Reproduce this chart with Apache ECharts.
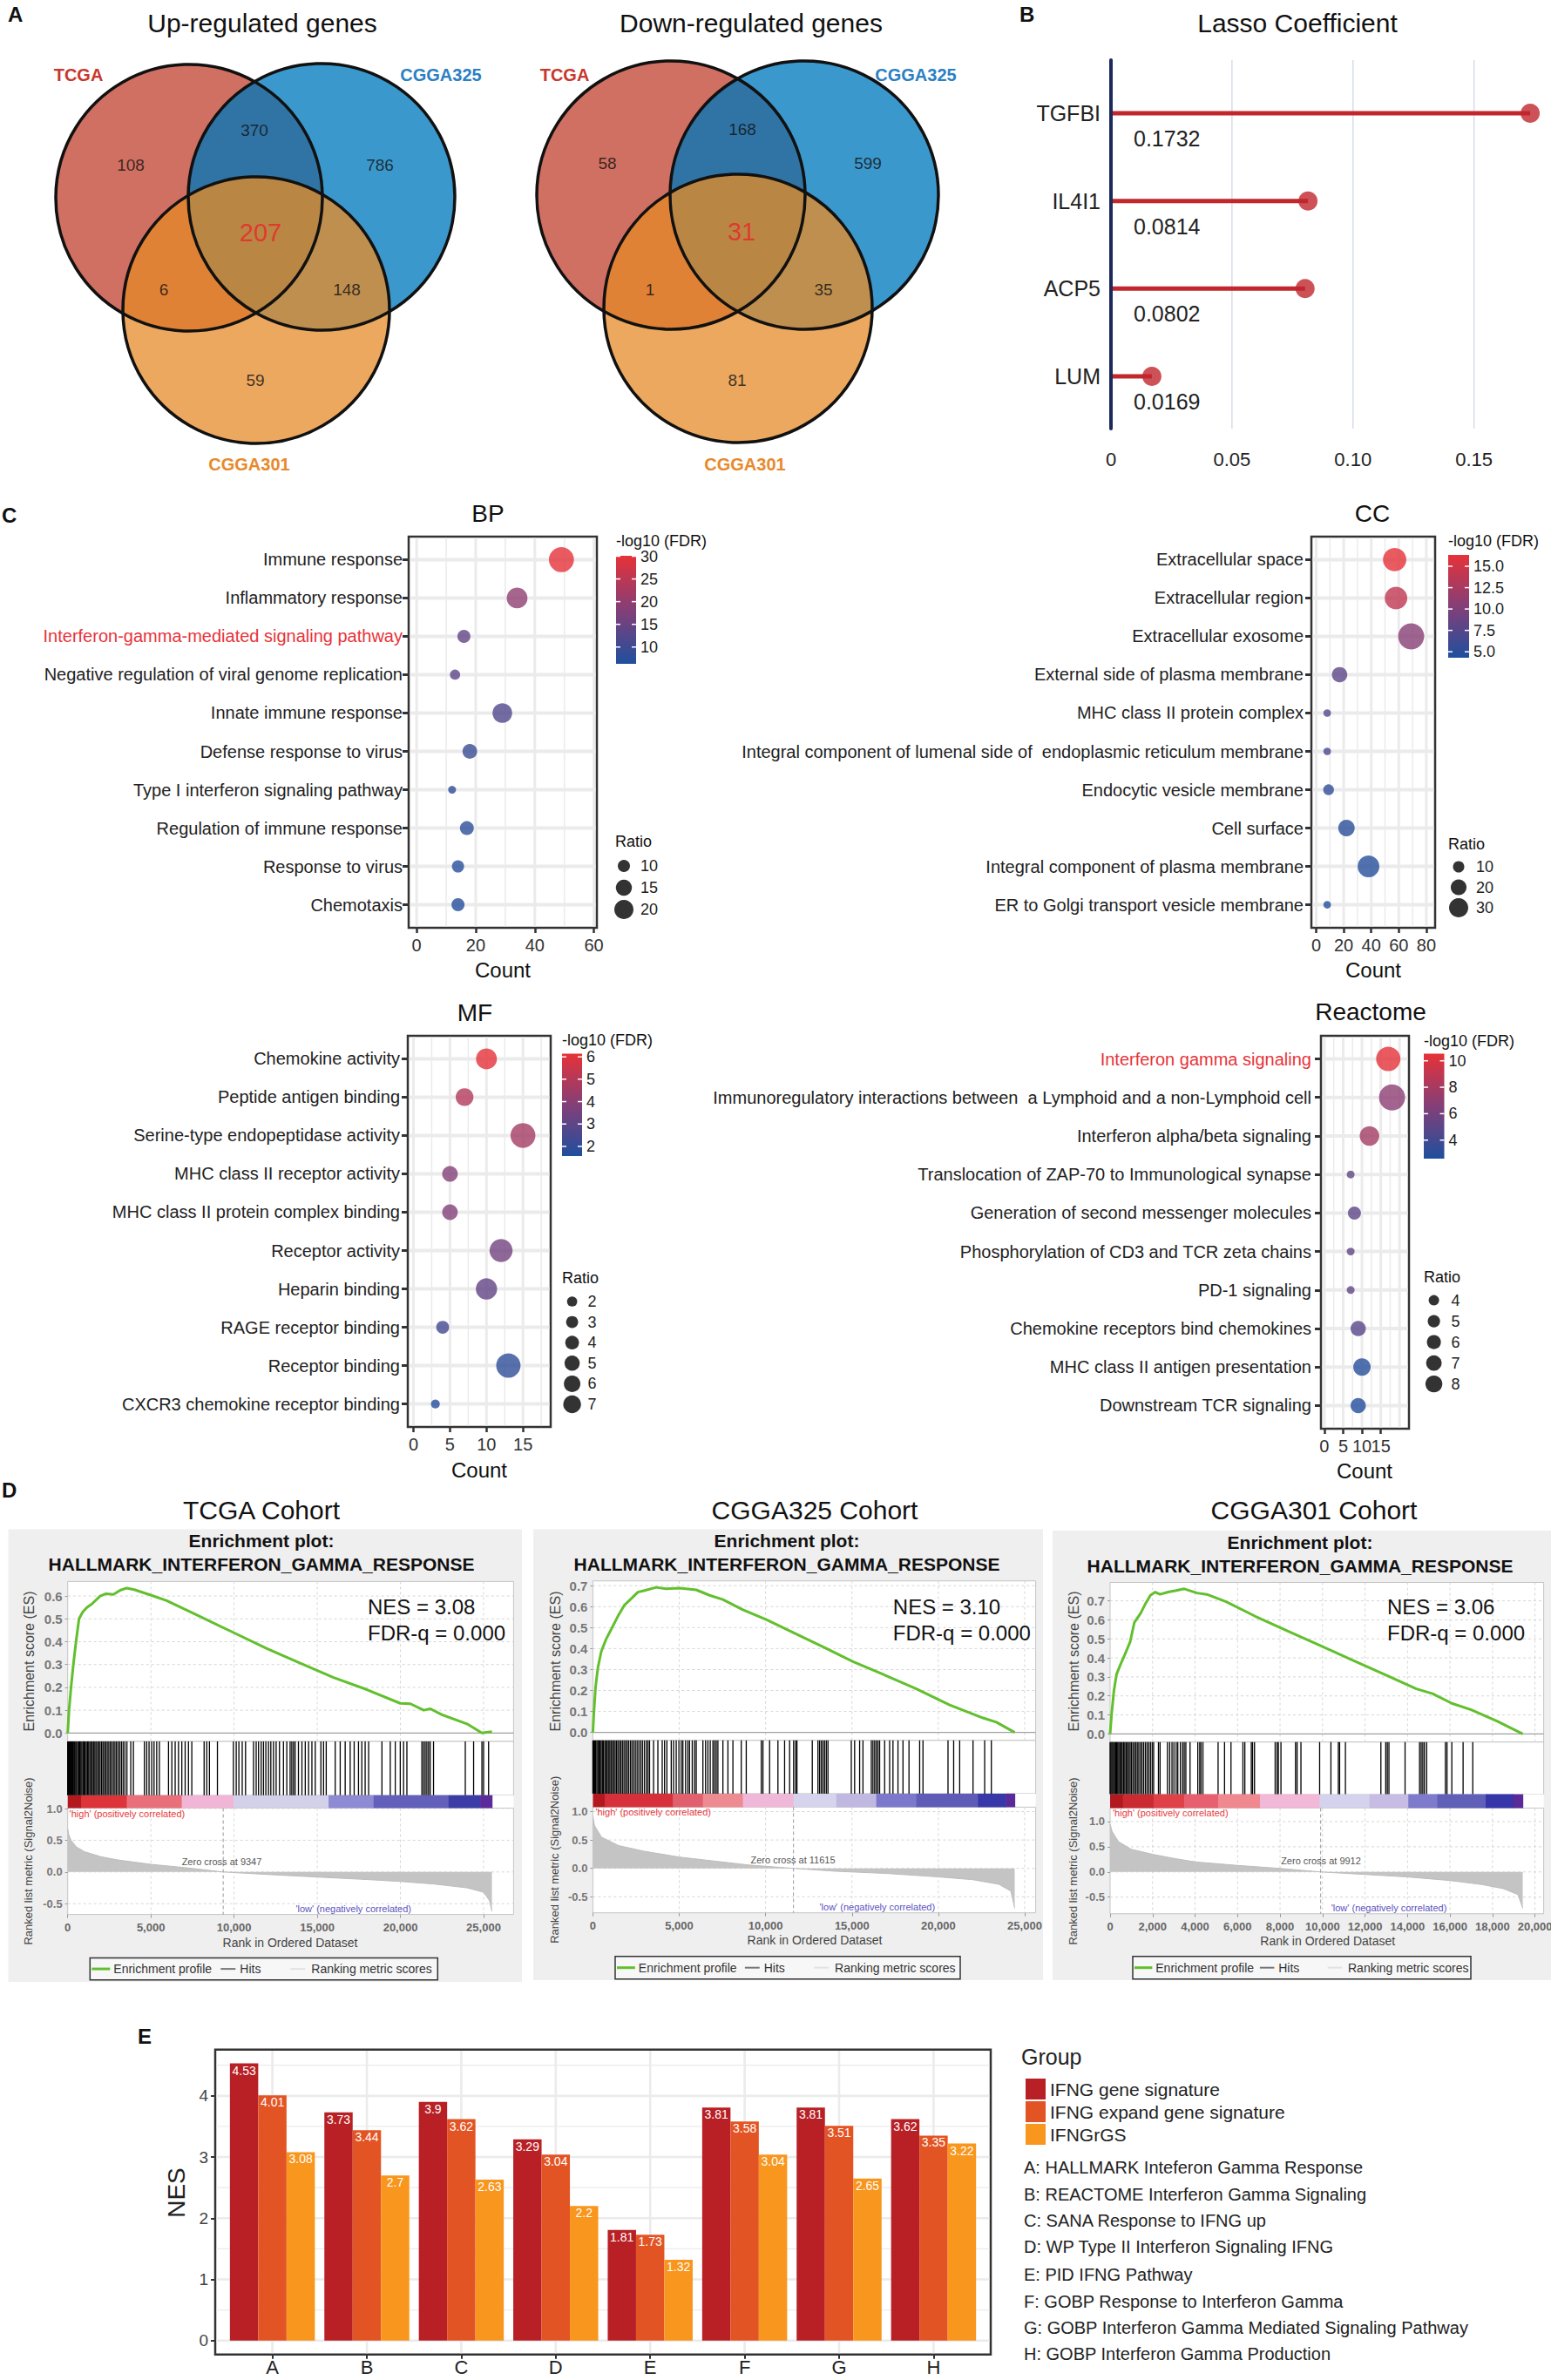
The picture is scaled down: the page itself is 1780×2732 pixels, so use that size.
<!DOCTYPE html>
<html><head><meta charset="utf-8">
<script src="https://cdn.jsdelivr.net/npm/echarts@6/dist/echarts.min.js"></script>
<style>html,body{margin:0;padding:0;background:#fff}#c{width:1780px;height:2732px}</style>
</head><body><div id="c"></div>
<script>
// ================= DATA =================
// Panel A (Venn) : region order = TCGA only, TCGA&CGGA325, CGGA325 only, all three, TCGA&CGGA301, CGGA325&CGGA301, CGGA301 only
const vennSetNames = ['TCGA', 'CGGA325', 'CGGA301'];
const upCounts = [108, 370, 786, 207, 6, 148, 59];
const downCounts = [58, 168, 599, 31, 1, 35, 81];

// Panel B (Lasso)
const lassoGenes = ['TGFBI', 'IL4I1', 'ACP5', 'LUM'];
const lassoCoef = [0.1732, 0.0814, 0.0802, 0.0169];
const lassoTicks = [0, 0.05, 0.10, 0.15];

// Panel C - BP
const bpTerms = ['Immune response', 'Inflammatory response', 'Interferon-gamma-mediated signaling pathway', 'Negative regulation of viral genome replication', 'Innate immune response', 'Defense response to virus', 'Type I interferon signaling pathway', 'Regulation of immune response', 'Response to virus', 'Chemotaxis'];
const bpCount = [49, 34, 16, 13, 29, 18, 12, 17, 14, 14];
const bpLogFDR = [30, 19.5, 14, 13.5, 12, 9.5, 8.2, 7.8, 7.2, 6.8];
const bpRatio = [32, 23, 11, 8, 21, 13, 6, 12, 10, 11];
const bpCountTicks = [0, 20, 40, 60];
const bpFdrTicks = [10, 15, 20, 25, 30];
const bpRatioBreaks = [10, 15, 20];

// Panel C - CC
const ccTerms = ['Extracellular space', 'Extracellular region', 'Extracellular exosome', 'External side of plasma membrane', 'MHC class II protein complex', 'Integral component of lumenal side of  endoplasmic reticulum membrane', 'Endocytic vesicle membrane', 'Cell surface', 'Integral component of plasma membrane', 'ER to Golgi transport vesicle membrane'];
const ccCount = [57, 58, 69, 17, 8, 8, 9, 22, 38, 8];
const ccLogFDR = [16.2, 14, 10.5, 8, 7.5, 6.8, 5.3, 4.9, 4.7, 4.6];
const ccRatio = [45, 42, 56, 19, 4, 4, 9, 22, 39, 4];
const ccCountTicks = [0, 20, 40, 60, 80];
const ccFdrTicks = [5, 7.5, 10, 12.5, 15];
const ccRatioBreaks = [10, 20, 30];

// Panel C - MF
const mfTerms = ['Chemokine activity', 'Peptide antigen binding', 'Serine-type endopeptidase activity', 'MHC class II receptor activity', 'MHC class II protein complex binding', 'Receptor activity', 'Heparin binding', 'RAGE receptor binding', 'Receptor binding', 'CXCR3 chemokine receptor binding'];
const mfCount = [10, 7, 15, 5, 5, 12, 10, 4, 13, 3];
const mfLogFDR = [6.1, 4.9, 4.6, 3.8, 3.8, 3.4, 3.1, 2.4, 1.9, 1.7];
const mfRatio = [9.9, 7, 14.2, 5.3, 5.3, 12.1, 10.3, 3.5, 13.6, 1.4];
const mfCountTicks = [0, 5, 10, 15];
const mfFdrTicks = [2, 3, 4, 5, 6];
const mfRatioBreaks = [2, 3, 4, 5, 6, 7];

// Panel C - Reactome
const reTerms = ['Interferon gamma signaling', 'Immunoregulatory interactions between  a Lymphoid and a non-Lymphoid cell', 'Interferon alpha/beta signaling', 'Translocation of ZAP-70 to Immunological synapse', 'Generation of second messenger molecules', 'Phosphorylation of CD3 and TCR zeta chains', 'PD-1 signaling', 'Chemokine receptors bind chemokines', 'MHC class II antigen presentation', 'Downstream TCR signaling'];
const reCount = [17, 18, 12, 7, 8, 7, 7, 9, 10, 9];
const reLogFDR = [10.4, 6.9, 7.8, 5.2, 5.0, 5.2, 5.2, 4.8, 2.9, 2.8];
const reRatio = [15, 17, 10.2, 2.9, 5.4, 2.9, 2.9, 6.8, 8.4, 6.8];
const reCountTicks = [0, 5, 10, 15, 20];
const reFdrTicks = [4, 6, 8, 10];
const reRatioBreaks = [4, 5, 6, 7, 8];

// Panel D - GSEA  [rank, ES], hits (ranks), [rank, metric]
const tcgaES = [[0,0],[80,0.1],[200,0.2],[340,0.3],[500,0.4],[680,0.5],[900,0.53],[1150,0.55],[1450,0.565],[1950,0.6],[2300,0.61],[2750,0.607],[3150,0.625],[3550,0.635],[4000,0.628],[4950,0.605],[5950,0.58],[7960,0.51],[9965,0.44],[11970,0.37],[13975,0.306],[15980,0.243],[17985,0.19],[19990,0.13],[20600,0.128],[21400,0.1],[21800,0.106],[22500,0.08],[24000,0.04],[24900,0.0],[25500,0.006]];
const tcgaHits = [0,40,95,150,190,260,310,370,420,480,530,600,660,720,790,850,920,990,1050,1120,1190,1260,1330,1410,1480,1550,1630,1700,1790,1870,1950,2040,2120,2210,2290,2380,2470,2560,2650,2750,2840,2930,3030,3130,3230,3330,3440,3560,3790,3950,4610,4750,4890,5050,5190,5350,5510,6060,6260,6460,6660,6860,7060,7260,7460,8200,8360,8520,9000,9960,10130,10290,10490,10690,11170,11330,11470,11630,11770,11910,12070,12210,12370,12530,12730,12970,13170,13370,13470,13570,13670,13870,14080,14280,14480,14680,14880,15220,15380,15540,16080,16380,16680,16980,17220,17480,17680,17880,18090,18890,19390,19690,19990,20190,20390,21290,21390,21490,21590,21690,21790,21990,23900,24400,24900,25000,25300];
const tcgaMetric = [[0,0.68],[50,0.6],[200,0.5],[500,0.4],[1000,0.32],[2000,0.24],[3000,0.19],[5000,0.12],[7000,0.07],[9347,0],[12000,-0.04],[15000,-0.08],[18000,-0.12],[20000,-0.15],[22000,-0.19],[24000,-0.25],[25000,-0.32],[25350,-0.45],[25500,-0.62]];
const tcgaBarEdges = [0,800,3549,6857,9965,15680,18386,22897,24800,25504];
const tcgaBarColors = ['#b3181f','#dc3439','#e9707a','#f1b6d6','#d3d0ea','#8e8ad3','#6260bb','#3c3ca6','#5b2b9b'];

const c325ES = [[0,0],[58,0.092],[154,0.215],[290,0.308],[483,0.385],[772,0.446],[1062,0.492],[1448,0.554],[1834,0.608],[2220,0.638],[2606,0.669],[2992,0.677],[3668,0.692],[4247,0.685],[5019,0.688],[5985,0.68],[6757,0.654],[7529,0.634],[8687,0.585],[10039,0.538],[11583,0.477],[13320,0.408],[15058,0.338],[16795,0.277],[18726,0.208],[20656,0.131],[22587,0.069],[23359,0.049],[24421,0]];
const c325Hits = [0,50,110,160,230,290,350,420,480,550,610,690,760,830,900,980,1050,1130,1210,1290,1370,1450,1540,1620,1710,1800,1890,1980,2070,2170,2260,2360,2460,2560,2660,2770,2870,2980,3090,3190,3282,3514,3764,4015,4151,4286,4537,4672,4826,4981,5116,5212,5367,5502,5598,5753,5888,5985,6371,6525,6660,6795,6950,7046,7143,7239,7529,7819,8108,8591,8880,9749,9846,10232,10714,11100,11390,11622,11738,11815,12703,13031,13127,13224,13320,13417,13514,13610,14961,15154,15444,15637,16120,16216,16313,16409,16506,16602,16892,17181,17374,17664,17954,18301,18919,19112,20560,20888,21236,22008,22683,23069];
const c325Metric = [[0,0.92],[100,0.75],[500,0.55],[1500,0.4],[3000,0.3],[5000,0.2],[7000,0.13],[9000,0.06],[11615,0],[14000,-0.05],[17000,-0.09],[20000,-0.15],[22000,-0.2],[23500,-0.28],[24200,-0.4],[24421,-0.7]];
const c325BarEdges = [0,700,4633,6371,8687,11622,14093,16409,18726,22297,23900,24421];
const c325BarColors = ['#b3181f','#d8303a','#e0606e','#ee8a92','#f0b8d8','#d6d4ec','#c0b8e0','#7c78cc','#5f5cb8','#3838a8','#5a2a9a'];

const c301ES = [[0,0],[76,0.11],[182,0.229],[304,0.314],[486,0.364],[683,0.415],[941,0.483],[1138,0.585],[1442,0.636],[1669,0.686],[1897,0.729],[2124,0.746],[2352,0.734],[2732,0.746],[3111,0.754],[3490,0.763],[4097,0.741],[4553,0.734],[5463,0.695],[6829,0.619],[8346,0.542],[9864,0.466],[11381,0.39],[12899,0.314],[14416,0.237],[15175,0.212],[16086,0.161],[16996,0.127],[18210,0.068],[19424,0]];
const c301Hits = [0,35,80,120,170,210,260,310,360,410,460,520,570,630,690,750,810,870,940,1000,1070,1140,1210,1280,1350,1430,1500,1580,1660,1740,1820,1900,1980,2050,2276,2352,2701,2807,2914,3005,3111,3187,3308,3414,3490,3566,3763,4128,4219,4279,4370,5084,5387,5691,6252,6343,6647,6707,6798,7770,7861,7921,8043,8726,8802,8984,9864,10395,10744,10805,11078,12747,12975,13051,13126,13885,14568,14644,14720,14796,14902,15782,15858,16086,16617,17072];
const c301Metric = [[0,0.95],[100,0.8],[400,0.6],[1000,0.45],[2000,0.35],[3000,0.27],[4000,0.2],[6000,0.13],[8000,0.07],[9912,0],[12000,-0.05],[14000,-0.1],[16000,-0.17],[17500,-0.25],[18500,-0.33],[19200,-0.45],[19424,-0.72]];
const c301BarEdges = [0,600,2049,3490,5084,7056,9864,12216,14037,15403,17679,18969,19424];
const c301BarColors = ['#b3181f','#cc2a32','#e04048','#e86070','#f08890','#f2b8d8','#d4d2ec','#c6bce4','#7e7acc','#6060b8','#3636a8','#5a2a9a'];

// Panel E
const eCats = ['A', 'B', 'C', 'D', 'E', 'F', 'G', 'H'];
const eGroups = ['IFNG gene signature', 'IFNG expand gene signature', 'IFNGrGS'];
const eIFNG = [4.53, 3.73, 3.9, 3.29, 1.81, 3.81, 3.81, 3.62];
const eIFNGexpand = [4.01, 3.44, 3.62, 3.04, 1.73, 3.58, 3.51, 3.35];
const eIFNGrGS = [3.08, 2.7, 2.63, 2.2, 1.32, 3.04, 2.65, 3.22];
const eTicks = [0, 1, 2, 3, 4];
const eDesc = ['A: HALLMARK Inteferon Gamma Response', 'B: REACTOME Interferon Gamma Signaling', 'C: SANA Response to IFNG up', 'D: WP Type II Interferon Signaling IFNG', 'E: PID IFNG Pathway', 'F: GOBP Response to Interferon Gamma', 'G: GOBP Interferon Gamma Mediated Signaling Pathway', 'H: GOBP Interferon Gamma Production'];

// ================= HELPERS =================
const FONT = 'Liberation Sans, Arial, Helvetica, sans-serif';
const FDR_COLORS = ['#1f4f9e', '#843f78', '#e63238'];
const option = {animation:false, backgroundColor:'#ffffff', textStyle:{fontFamily:FONT},
  grid:[], xAxis:[], yAxis:[], series:[], visualMap:[], legend:[], graphic:{elements:[]}};
const G = option.graphic.elements;
function txt(x, y, s, o) {
  o = o || {};
  G.push({type:'text', x:x, y:y, rotation:o.rot || 0, z:o.z || 100, silent:true,
    style:{text:s, fontSize:o.size || 16, fontFamily:o.fam || FONT, fontWeight:o.w || 'normal', fill:o.color || '#111',
      textAlign:o.align || 'left', align:o.align || 'left', textVerticalAlign:'middle', verticalAlign:'middle'}});
}
function rect(x, y, w, h, o) {
  G.push({type:'rect', z:o.z == null ? -10 : o.z, silent:true, shape:{x:x, y:y, width:w, height:h},
    style:{fill:o.fill || 'none', stroke:o.stroke || null, lineWidth:o.lw || 1}});
}
function gline(x1, y1, x2, y2, o) {
  G.push({type:'line', z:o.z || 100, silent:true, shape:{x1:x1, y1:y1, x2:x2, y2:y2}, style:{stroke:o.color, lineWidth:o.lw || 1}});
}
function addGrid(g, xa, ya) {
  g.outerBoundsMode = 'none'; g.containLabel = false;
  option.grid.push(g);
  const gi = option.grid.length - 1;
  xa.gridIndex = gi; ya.gridIndex = gi;
  xa.axisLine = Object.assign({onZero:false}, xa.axisLine || {});
  ya.axisLine = Object.assign({onZero:false}, ya.axisLine || {});
  option.xAxis.push(xa); option.yAxis.push(ya);
  return [option.xAxis.length - 1, option.yAxis.length - 1];
}
function hid(min, max, extra) { return Object.assign({type:'value', show:false, min:min, max:max}, extra || {}); }
function gridLines(ax, vals, dir, ref, style, z, inset) {
  inset = inset || 0;
  option.series.push({type:'custom', xAxisIndex:ax[0], yAxisIndex:ax[1], silent:true, z:z == null ? 1 : z,
    data: vals.map(v => dir === 'v' ? [v, ref] : [ref, v]),
    renderItem: (p, api) => {
      const cs = p.coordSys;
      const pt = api.coord([api.value(0), api.value(1)]);
      const sh = dir === 'v' ? {x1:pt[0], y1:cs.y + inset, x2:pt[0], y2:cs.y + cs.height - inset}
                             : {x1:cs.x + inset, y1:pt[1], x2:cs.x + cs.width - inset, y2:pt[1]};
      return {type:'line', shape:sh, style:Object.assign({fill:null}, style)};
    }});
}

// ================= PANEL LETTERS =================
txt(9, 16, 'A', {size:24, w:'bold'});
txt(1170, 16, 'B', {size:24, w:'bold'});
txt(2, 591, 'C', {size:24, w:'bold'});
txt(2, 1710, 'D', {size:24, w:'bold'});
txt(158, 2337, 'E', {size:24, w:'bold'});

// ================= PANEL A : VENN =================
const vennFill = ['#d07062', '#3b98cd', '#eca85f', '#3074a5', '#e08236', '#bf8f50', '#ba8644'];
const vennAx = addGrid({left:0, top:0, width:1150, height:560}, hid(0, 1150), hid(0, 560, {inverse:true}));
function circlePts(c, n) { const a = []; for (let i = 0; i < n; i++) { const t = 2 * Math.PI * i / n; a.push([c[0] + c[2] * Math.cos(t), c[1] + c[2] * Math.sin(t)]); } return a; }
function insideC(p, c) { const dx = p[0] - c[0], dy = p[1] - c[1]; return dx * dx + dy * dy <= c[2] * c[2] + 0.01; }
function interPoly(cs) {
  const pts = [];
  cs.forEach((c, i) => circlePts(c, 720).forEach(p => { if (cs.every((o, j) => j === i || insideC(p, o))) pts.push(p); }));
  const mx = pts.reduce((s, p) => s + p[0], 0) / pts.length, my = pts.reduce((s, p) => s + p[1], 0) / pts.length;
  pts.sort((a, b) => Math.atan2(a[1] - my, a[0] - mx) - Math.atan2(b[1] - my, b[0] - mx));
  return pts;
}
function venn(circles, labelPos, counts, setPos, title, titlePos) {
  const [A, B, C] = circles;
  const shapes = [{c:A, fill:vennFill[0]}, {c:B, fill:vennFill[1]}, {c:C, fill:vennFill[2]},
    {poly:interPoly([A, B]), fill:vennFill[3]}, {poly:interPoly([A, C]), fill:vennFill[4]},
    {poly:interPoly([B, C]), fill:vennFill[5]}, {poly:interPoly([A, B, C]), fill:vennFill[6]},
    {c:A, stroke:true}, {c:B, stroke:true}, {c:C, stroke:true}];
  option.series.push({type:'custom', xAxisIndex:vennAx[0], yAxisIndex:vennAx[1], silent:true, z:2,
    data: shapes.map(s => s.c ? [s.c[0], s.c[1]] : [0, 0]),
    renderItem: (p, api) => {
      const s = shapes[p.dataIndex];
      if (s.poly) return {type:'polygon', shape:{points:s.poly.map(q => api.coord(q))}, style:{fill:s.fill}};
      const ctr = api.coord([s.c[0], s.c[1]]);
      const r = api.size([s.c[2], 0])[0];
      return {type:'circle', shape:{cx:ctr[0], cy:ctr[1], r:r},
        style: s.stroke ? {fill:null, stroke:'#111', lineWidth:3.5} : {fill:s.fill}};
    }});
  option.series.push({type:'scatter', xAxisIndex:vennAx[0], yAxisIndex:vennAx[1], silent:true, z:5, symbolSize:1,
    itemStyle:{color:'rgba(0,0,0,0)'},
    data: counts.map((n, i) => ({value:labelPos[i], label:{show:true, position:'inside', formatter:String(n),
      fontSize: i === 3 ? 29 : 19, color: i === 3 ? '#e8262a' : '#111', fontFamily:FONT}}))});
  const setColors = ['#c8372d', '#2b7fc3', '#e8892c'];
  vennSetNames.forEach((nm, i) => txt(setPos[i][0], setPos[i][1], nm, {size:20, w:'bold', color:setColors[i], align:'center'}));
  txt(titlePos[0], titlePos[1], title, {size:30, align:'center'});
}
venn([[217,227,153],[369,226,153],[294,356,153]],
  [[150,189],[292,149],[436,189],[299,267],[188,332],[398,332],[293,436]], upCounts,
  [[90,86],[506,86],[286,533]], 'Up-regulated genes', [301,26]);
venn([[770,224,154],[923,224,154],[847,354,154]],
  [[697,187],[852,148],[996,187],[851,266],[746,332],[945,332],[846,436]], downCounts,
  [[648,86],[1051,86],[855,533]], 'Down-regulated genes', [862,26]);

// ================= PANEL B : LASSO =================
txt(1489, 26, 'Lasso Coefficient', {size:30, align:'center'});
const las = addGrid({left:1275, top:69, width:500, height:423},
  {type:'value', min:0, max:0.18, splitLine:{show:false}, axisLine:{show:false}, axisTick:{show:false},
    axisLabel:{customValues:lassoTicks, formatter:v => v === 0 ? '0' : v.toFixed(2), fontSize:22, color:'#222', margin:24}},
  {type:'value', inverse:true, min:0.394, max:4.596, splitLine:{show:false},
    axisLine:{show:true, lineStyle:{color:'#1b2a5a', width:4}}, axisTick:{show:false},
    axisLabel:{customValues:[1,2,3,4], formatter:v => lassoGenes[Math.round(v) - 1], fontSize:25, color:'#222', margin:12}});
gridLines(las, lassoTicks.slice(1), 'v', 1, {stroke:'#d6dce8', lineWidth:1.5});
option.series.push({type:'custom', xAxisIndex:las[0], yAxisIndex:las[1], silent:true, z:3,
  data: lassoCoef.map((v, i) => [v, i + 1]),
  renderItem: (p, api) => {
    const v = api.value(0), r = api.value(1);
    const a = api.coord([0, r]), b = api.coord([v, r]);
    return {type:'group', children:[
      {type:'line', shape:{x1:a[0] + 2, y1:a[1], x2:b[0], y2:b[1]}, style:{stroke:'#c1272d', lineWidth:5}},
      {type:'text', x:a[0] + 26, y:a[1] + 29, style:{text:String(lassoCoef[p.dataIndex]), fontSize:25, fontFamily:FONT, fill:'#222',
        textAlign:'left', align:'left', textVerticalAlign:'middle', verticalAlign:'middle'}}]};
  }});
option.series.push({type:'scatter', xAxisIndex:las[0], yAxisIndex:las[1], silent:true, z:4, symbolSize:22,
  itemStyle:{color:'#c1272d'}, data: lassoCoef.map((v, i) => [v, i + 1])});

// ================= PANEL C : DOT PLOTS =================
function dotPlot(c) {
  const n = c.terms.length;
  const rows = c.terms.map((t, i) => i + 1);
  const b = c.box;
  const ax = addGrid({left:b[0], top:b[1], width:b[2], height:b[3], show:true, borderColor:'#333', borderWidth:2.5, backgroundColor:'#fff'},
    {type:'value', min:c.xr[0], max:c.xr[1], splitLine:{show:false}, axisLine:{show:false},
      axisTick:{show:true, customValues:c.xt, length:6, lineStyle:{color:'#333', width:2.5}},
      axisLabel:{customValues:c.xt, fontSize:20, color:'#333', margin:10}},
    {type:'value', inverse:true, min:0.4, max:n + 0.6, splitLine:{show:false}, axisLine:{show:false},
      axisTick:{show:true, customValues:rows, length:7, lineStyle:{color:'#333', width:3}},
      axisLabel:{customValues:rows, fontSize:20, color:'#222', margin:c.lm,
        formatter:v => { const k = Math.round(v) - 1; return k === c.hl ? '{hl|' + c.terms[k] + '}' : c.terms[k]; },
        rich:{hl:{color:'#e8333a', fontSize:20, fontFamily:FONT}}}});
  gridLines(ax, c.minor, 'v', 1, {stroke:'#ebebeb', lineWidth:1.5}, 1, 1.5);
  gridLines(ax, c.xt, 'v', 1, {stroke:'#ebebeb', lineWidth:3}, 1, 1.5);
  gridLines(ax, rows, 'h', c.xt[0], {stroke:'#ebebeb', lineWidth:4}, 1, 1.5);
  const sIdx = option.series.length;
  option.series.push({type:'scatter', xAxisIndex:ax[0], yAxisIndex:ax[1], silent:true, z:4,
    data: c.count.map((v, i) => [v, i + 1, c.fdr[i], c.ratio[i]]),
    symbolSize: d => Math.sqrt(Math.max(c.sA + c.sB * d[3], 9))});
  option.visualMap.push({type:'continuous', show:false, seriesIndex:sIdx, dimension:2, min:c.cbr[0], max:c.cbr[1], inRange:{color:FDR_COLORS}});
  // colour bar
  const cb = c.cb;
  const cax = addGrid({left:cb[0], top:cb[1], width:cb[2], height:cb[3]}, hid(-1, 1),
    {type:'value', min:c.cbr[0], max:c.cbr[1], position:'right', splitLine:{show:false}, axisLine:{show:false}, axisTick:{show:false},
      axisLabel:{customValues:c.cbt, formatter:c.fmt, fontSize:18, color:'#222', margin:5}});
  option.series.push({type:'custom', xAxisIndex:cax[0], yAxisIndex:cax[1], silent:true, z:2,
    data:[[0, c.cbr[0], c.cbr[1]]],
    renderItem: (p, api) => {
      const cs = p.coordSys;
      const y1 = api.coord([0, api.value(1)])[1], y2 = api.coord([0, api.value(2)])[1];
      return {type:'rect', shape:{x:cs.x, y:y2, width:cs.width, height:y1 - y2},
        style:{fill:{type:'linear', x:0, y:1, x2:0, y2:0, global:false,
          colorStops:FDR_COLORS.map((col, i, a) => ({offset:i / (a.length - 1), color:col}))}}};
    }});
  option.series.push({type:'custom', xAxisIndex:cax[0], yAxisIndex:cax[1], silent:true, z:3,
    data: c.cbt.map(v => [0, v]),
    renderItem: (p, api) => {
      const cs = p.coordSys; const y = api.coord([0, api.value(1)])[1];
      return {type:'group', children:[
        {type:'line', shape:{x1:cs.x, y1:y, x2:cs.x + 5, y2:y}, style:{stroke:'#fff', lineWidth:1.5}},
        {type:'line', shape:{x1:cs.x + cs.width - 5, y1:y, x2:cs.x + cs.width, y2:y}, style:{stroke:'#fff', lineWidth:1.5}}]};
    }});
  // size legend
  const L = c.leg;
  const lax = addGrid({left:L.dotX - 10, top:L.y0 - L.sp / 2, width:20, height:L.breaks.length * L.sp}, hid(-1, 1),
    {type:'category', data:L.breaks.map(String), inverse:true, position:'right', axisLine:{show:false}, axisTick:{show:false},
      splitLine:{show:false}, axisLabel:{fontSize:18, color:'#222', margin:L.labX - (L.dotX + 10)}});
  option.series.push({type:'scatter', xAxisIndex:lax[0], yAxisIndex:lax[1], silent:true, z:4,
    itemStyle:{color:'#000'}, data: L.breaks.map(v => [0, String(v)]),
    symbolSize: (d, p) => Math.sqrt(Math.max(c.sA + c.sB * L.breaks[p.dataIndex], 9))});
  txt(c.title[0], c.title[1], c.title[2], {size:28, align:'center'});
  txt(c.countPos[0], c.countPos[1], 'Count', {size:24, align:'center'});
  txt(c.fdrT[0], c.fdrT[1], '-log10 (FDR)', {size:18});
  txt(c.ratT[0], c.ratT[1], 'Ratio', {size:18});
}
const intFmt = v => String(Math.round(v));
dotPlot({terms:bpTerms, count:bpCount, fdr:bpLogFDR, ratio:bpRatio, box:[469,616,216,449], xr:[-2.7,61], xt:bpCountTicks, minor:[10,30,50],
  hl:2, sA:-92, sB:28.8, cb:[707,638,23,124], cbr:[6.3,30.1], cbt:bpFdrTicks, fmt:intFmt,
  leg:{dotX:716, labX:735, y0:994, sp:25, breaks:bpRatioBreaks}, title:[560,589,'BP'], countPos:[577,1113], fdrT:[707,621], ratT:[706,966], lm:7});
dotPlot({terms:ccTerms, count:ccCount, fdr:ccLogFDR, ratio:ccRatio, box:[1505,616,142,449], xr:[-3.5,86.4], xt:ccCountTicks, minor:[10,30,50,70],
  hl:-1, sA:12, sB:15.75, cb:[1662,637,24,118], cbr:[4.3,16.33], cbt:ccFdrTicks, fmt:v => v.toFixed(1),
  leg:{dotX:1674, labX:1694, y0:995, sp:23.5, breaks:ccRatioBreaks}, title:[1575,589,'CC'], countPos:[1576,1113], fdrT:[1662,621], ratT:[1662,969], lm:9});
dotPlot({terms:mfTerms, count:mfCount, fdr:mfLogFDR, ratio:mfRatio, box:[468,1189,164,449], xr:[-0.78,18.8], xt:mfCountTicks, minor:[2.5,7.5,12.5,17.5],
  hl:-1, sA:25, sB:55.8, cb:[645,1209.5,23,117.5], cbr:[1.57,6.14], cbt:mfFdrTicks, fmt:intFmt,
  leg:{dotX:656.6, labX:674.5, y0:1494, sp:23.6, breaks:mfRatioBreaks}, title:[545,1162.5,'MF'], countPos:[550,1687], fdrT:[645,1194], ratT:[645,1467], lm:9});
dotPlot({terms:reTerms, count:reCount, fdr:reLogFDR, ratio:reRatio, box:[1516,1189,101,451], xr:[-0.9,22.5], xt:reCountTicks, minor:[2.5,7.5,12.5,17.5],
  hl:0, sA:-88, sB:58, cb:[1634,1209.5,23.5,120.5], cbr:[2.6,10.54], cbt:reFdrTicks, fmt:intFmt,
  leg:{dotX:1645.6, labX:1665.6, y0:1492.6, sp:24, breaks:reRatioBreaks}, title:[1573,1161,'Reactome'], countPos:[1566,1688], fdrT:[1634,1195], ratT:[1634,1465.5], lm:11});

// ================= PANEL D : GSEA =================
function gsea(c) {
  rect(c.panel[0], c.panel[1], c.panel[2], c.panel[3], {fill:'#efefef', z:-10});
  const W = c.pr - c.pl;
  const dash = {stroke:'#d6d6d6', lineWidth:1, lineDash:[3,3]};
  const xAx = labels => ({type:'value', min:0, max:c.rankMax, splitLine:{show:false}, axisLine:{show:false},
    axisTick: labels ? {show:true, customValues:c.xTicks, length:4, lineStyle:{color:'#999'}} : {show:false},
    axisLabel: labels ? {customValues:c.xTicks, formatter:v => Number(v).toLocaleString('en-US'), fontSize:13, fontWeight:'bold', color:'#666', margin:8} : {show:false}});
  // ES
  const es = addGrid({left:c.pl, top:c.esTop, width:W, height:c.esBot - c.esTop, show:true, borderColor:'#c4c4c4', borderWidth:1, backgroundColor:'#fff'},
    xAx(false),
    {type:'value', min:c.esMin, max:c.esMax, splitLine:{show:false}, axisLine:{show:false},
      axisTick:{show:true, customValues:c.esTicks, length:3, lineStyle:{color:'#999'}},
      axisLabel:{customValues:c.esTicks, formatter:v => v.toFixed(1), fontSize:15, fontWeight:'bold', color:'#777', margin:6}});
  gridLines(es, c.xTicks.slice(1), 'v', 0.1, dash);
  gridLines(es, c.esTicks.slice(1), 'h', 1000, dash);
  gridLines(es, [0], 'h', 1000, {stroke:'#a0a0a0', lineWidth:1.3}, 2);
  option.series.push({type:'line', xAxisIndex:es[0], yAxisIndex:es[1], data:c.es, symbol:'none', silent:true, z:5,
    lineStyle:{color:'#62bf2e', width:3}});
  // hits
  const hits = addGrid({left:c.pl, top:c.esBot, width:W, height:c.hitsBot - c.esBot, show:true, borderColor:'#c4c4c4', borderWidth:1, backgroundColor:'#fff'},
    xAx(false), hid(0, 1));
  gridLines(hits, c.hits, 'v', 0.5, {stroke:'#000', lineWidth:1.3}, 3);
  // colour bar
  const cb = addGrid({left:c.pl, top:c.hitsBot, width:W, height:c.cbBot - c.hitsBot, show:true, borderWidth:0, backgroundColor:'#fff'},
    xAx(false), hid(0, 1));
  option.series.push({type:'custom', xAxisIndex:cb[0], yAxisIndex:cb[1], silent:true, z:2,
    data: c.cbColors.map((col, i) => [c.cbEdges[i], c.cbEdges[i + 1], i]),
    renderItem: (p, api) => {
      const cs = p.coordSys;
      const x1 = api.coord([api.value(0), 0.5])[0], x2 = api.coord([api.value(1), 0.5])[0];
      return {type:'rect', shape:{x:x1, y:cs.y, width:x2 - x1 + 0.6, height:cs.height}, style:{fill:c.cbColors[api.value(2)]}};
    }});
  // ranked metric
  const m = addGrid({left:c.pl, top:c.cbBot, width:W, height:c.mBot - c.cbBot, show:true, borderColor:'#c4c4c4', borderWidth:1, backgroundColor:'#fff'},
    xAx(true),
    {type:'value', min:c.mMin, max:c.mMax, splitLine:{show:false}, axisLine:{show:false},
      axisTick:{show:true, customValues:c.mTicks, length:3, lineStyle:{color:'#999'}},
      axisLabel:{customValues:c.mTicks, formatter:v => v.toFixed(1), fontSize:13, fontWeight:'bold', color:'#777', margin:6}});
  gridLines(m, c.xTicks.slice(1), 'v', 0, dash);
  gridLines(m, c.mTicks, 'h', 1000, dash);
  option.series.push({type:'line', xAxisIndex:m[0], yAxisIndex:m[1], data:c.metric, symbol:'none', silent:true, z:3,
    lineStyle:{color:'#bdbdbd', width:1}, areaStyle:{color:'#c4c4c4', opacity:1}});
  gridLines(m, [c.zero], 'v', 0, {stroke:'#999', lineWidth:1, lineDash:[4,3]}, 4);
  // texts
  txt(c.titleX, 1733, c.title, {size:30, align:'center'});
  txt(c.enrich[0], c.enrich[1], 'Enrichment plot:', {size:21, w:'bold', align:'center'});
  txt(c.enrich[0], c.enrich[2], 'HALLMARK_INTERFERON_GAMMA_RESPONSE', {size:21, w:'bold', align:'center'});
  txt(c.nesX, 1844, 'NES = ' + c.nes, {size:24});
  txt(c.nesX, 1874, 'FDR-q = ' + c.fdr, {size:24});
  txt(c.zeroTxt[0], c.zeroTxt[1], 'Zero cross at ' + c.zero, {size:11, color:'#555', align:'center'});
  txt(c.highTxt[0], c.highTxt[1], "'high' (positively correlated)", {size:11, color:'#e8383d'});
  txt(c.lowTxt[0], c.lowTxt[1], "'low' (negatively correlated)", {size:11, color:'#5a52c0', align:'center'});
  txt(c.esTitle[0], c.esTitle[1], 'Enrichment score (ES)', {size:16, color:'#444', align:'center', rot:Math.PI / 2});
  txt(c.mTitle[0], c.mTitle[1], 'Ranked list metric (Signal2Noise)', {size:13, color:'#444', align:'center', rot:Math.PI / 2});
  txt(c.xTitle[0], c.xTitle[1], 'Rank in Ordered Dataset', {size:14, color:'#444', align:'center'});
  const lb = c.legBox, k = lb[2] / 399, cy = lb[1] + lb[3] / 2;
  rect(lb[0], lb[1], lb[2], lb[3], {fill:'#f7f7f7', stroke:'#333', lw:1.5, z:50});
  gline(lb[0] + 2 * k, cy, lb[0] + 23 * k, cy, {color:'#62bf2e', lw:3, z:60});
  txt(lb[0] + 27 * k, cy, 'Enrichment profile', {size:14, color:'#333', z:60});
  gline(lb[0] + 150 * k, cy, lb[0] + 167 * k, cy, {color:'#777', lw:2, z:60});
  txt(lb[0] + 172 * k, cy, 'Hits', {size:14, color:'#333', z:60});
  gline(lb[0] + 230 * k, cy, lb[0] + 247 * k, cy, {color:'#e2e2e2', lw:2, z:60});
  txt(lb[0] + 254 * k, cy, 'Ranking metric scores', {size:14, color:'#333', z:60});
}
gsea({panel:[9.6,1755.5,589.4,519.5], pl:77.7, pr:589.4, esTop:1815.4, esBot:1999, hitsBot:2060.7, cbBot:2075.5, mBot:2197.6,
  rankMax:26802, esMin:-0.037, esMax:0.6637, mMin:-0.670, mMax:1.007,
  esTicks:[0,0.1,0.2,0.3,0.4,0.5,0.6], mTicks:[-0.5,0,0.5,1], xTicks:[0,5000,10000,15000,20000,25000],
  es:tcgaES, hits:tcgaHits, metric:tcgaMetric, cbEdges:tcgaBarEdges, cbColors:tcgaBarColors, zero:9347, nes:'3.08', fdr:'0.000',
  title:'TCGA Cohort', titleX:300, enrich:[300,1768.4,1795.5], nesX:422, zeroTxt:[254.5,2136.5], highTxt:[79.6,2081.8], lowTxt:[405.7,2191],
  legBox:[103.3,2247.5,399,25.2], esTitle:[33.7,1907], mTitle:[32.5,2136.5], xTitle:[333,2229.8]});
gsea({panel:[612,1755.5,585,517.5], pl:680.4, pr:1188.6, esTop:1814.7, esBot:1997.8, hitsBot:2058.9, cbBot:2074.4, mBot:2195.7,
  rankMax:25636, esMin:-0.038, esMax:0.7228, mMin:-0.782, mMax:1.078,
  esTicks:[0,0.1,0.2,0.3,0.4,0.5,0.6,0.7], mTicks:[-0.5,0,0.5,1], xTicks:[0,5000,10000,15000,20000,25000],
  es:c325ES, hits:c325Hits, metric:c325Metric, cbEdges:c325BarEdges, cbColors:c325BarColors, zero:11615, nes:'3.10', fdr:'0.000',
  title:'CGGA325 Cohort', titleX:935, enrich:[903,1768.4,1795.5], nesX:1024.8, zeroTxt:[910,2134.7], highTxt:[683.4,2080], lowTxt:[1006.8,2189],
  legBox:[706,2245.7,396,26], esTitle:[637.5,1907], mTitle:[636,2134.7], xTitle:[935,2227]});
gsea({panel:[1208,1757,572,516], pl:1274, pr:1771.6, esTop:1816.5, esBot:1999.7, hitsBot:2059.6, cbBot:2075.5, mBot:2196.8,
  rankMax:20410, esMin:-0.0426, esMax:0.7966, mMin:-0.830, mMax:1.268,
  esTicks:[0,0.1,0.2,0.3,0.4,0.5,0.6,0.7], mTicks:[-0.5,0,0.5,1], xTicks:[0,2000,4000,6000,8000,10000,12000,14000,16000,18000,20000],
  es:c301ES, hits:c301Hits, metric:c301Metric, cbEdges:c301BarEdges, cbColors:c301BarColors, zero:9912, nes:'3.06', fdr:'0.000',
  title:'CGGA301 Cohort', titleX:1508, enrich:[1492,1770,1797], nesX:1592, zeroTxt:[1516,2135.8], highTxt:[1277,2081], lowTxt:[1594,2189.5],
  legBox:[1300,2245.7,388,26], esTitle:[1232.6,1907], mTitle:[1231.4,2136.5], xTitle:[1523.7,2228]});

// ================= PANEL E : BARS =================
const eColors = ['#b82025', '#e35424', '#f8961e'];
const eOuter = addGrid({left:247, top:2352.7, width:890, height:350, show:true, borderColor:'#333', borderWidth:2.5, backgroundColor:'#fff'},
  hid(0, 1),
  {type:'value', min:-0.2265, max:4.7565, splitLine:{show:false}, axisLine:{show:false},
    axisTick:{show:true, customValues:eTicks, length:5, lineStyle:{color:'#333', width:2}},
    axisLabel:{customValues:eTicks, fontSize:19, color:'#444', margin:8}});
gridLines(eOuter, [0.5,1.5,2.5,3.5,4.5], 'h', 0.5, {stroke:'#ebebeb', lineWidth:1.3}, 1, 1.5);
gridLines(eOuter, eTicks, 'h', 0.5, {stroke:'#ebebeb', lineWidth:2.6}, 1, 1.5);
const eInner = addGrid({left:258.4, top:2352.7, width:867.2, height:350},
  {type:'category', data:eCats, axisLine:{show:false}, splitLine:{show:false},
    axisTick:{show:true, alignWithLabel:true, length:5, lineStyle:{color:'#333', width:2}},
    axisLabel:{fontSize:22, color:'#222', margin:4}},
  hid(-0.2265, 4.7565));
gridLines(eInner, eCats, 'v', 0, {stroke:'#ebebeb', lineWidth:2.6}, 1, 1.5);
[eIFNG, eIFNGexpand, eIFNGrGS].forEach((arr, k) => option.series.push({type:'bar', name:eGroups[k], xAxisIndex:eInner[0], yAxisIndex:eInner[1],
  data:arr, barWidth:32.5, barGap:'0%', silent:true, z:3, itemStyle:{color:eColors[k]},
  label:{show:true, position:'insideTop', distance:1, color:'#fff', fontSize:14, fontFamily:FONT}}));
txt(202, 2517, 'NES', {size:28, color:'#222', align:'center', rot:Math.PI / 2});
option.legend.push({data:eGroups, orient:'vertical', left:1172, top:2381, itemWidth:23, itemHeight:24, itemGap:2, icon:'rect',
  selectedMode:false, textStyle:{fontSize:21, color:'#222', fontFamily:FONT}});
txt(1172, 2361, 'Group', {size:25, color:'#222'});
const eDescY = [2487.7, 2519, 2549, 2579.3, 2611, 2642.3, 2672.3, 2702.3];
eDesc.forEach((s, i) => txt(1175, eDescY[i], s, {size:20, color:'#222'}));

const chart = echarts.init(document.getElementById('c'), null, {renderer:'svg', width:1780, height:2732});
chart.setOption(option);
</script></body></html>
